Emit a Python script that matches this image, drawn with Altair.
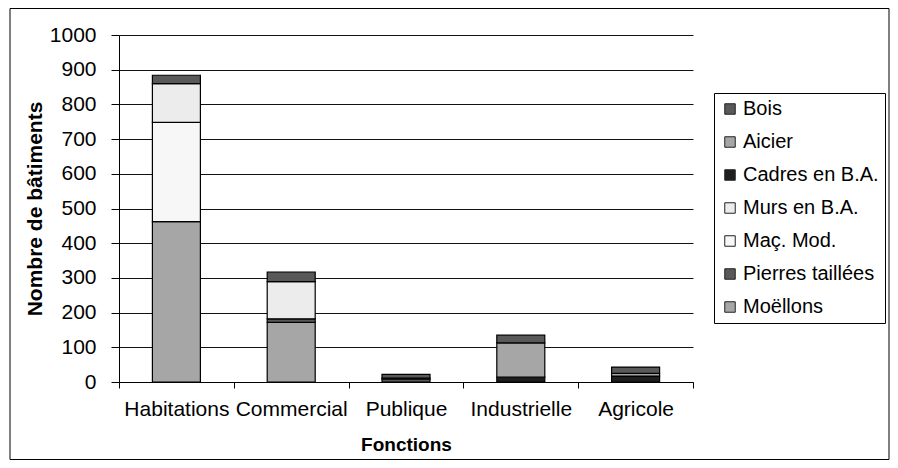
import altair as alt
import pandas as pd

categories = ["Habitations", "Commercial", "Publique", "Industrielle", "Agricole"]
materials = ["Bois", "Aicier", "Cadres en B.A.", "Murs en B.A.", "Maç. Mod.", "Pierres taillées", "Moëllons"]
colors = ["#595959", "#a6a6a6", "#1e1e1e", "#ececec", "#f7f7f7", "#595959", "#a6a6a6"]

moellons = [462, 172, 0, 0, 0]
pierres = [0, 10, 8, 0, 0]
mac_mod = [286, 0, 0, 0, 0]
murs = [112, 107, 3, 0, 0]
cadres = [0, 0, 0, 14, 17]
aicier = [0, 0, 0, 99, 8]
bois = [24, 28, 11, 22, 18]
y_ticks = list(range(0, 1001, 100))

series = {
    "Moëllons": moellons,
    "Pierres taillées": pierres,
    "Maç. Mod.": mac_mod,
    "Murs en B.A.": murs,
    "Cadres en B.A.": cadres,
    "Aicier": aicier,
    "Bois": bois,
}
rows = []
for idx, (mat, vals) in enumerate(series.items()):
    for cat, v in zip(categories, vals):
        if v > 0:
            rows.append({"Fonction": cat, "Matériau": mat, "Nombre": v, "idx": idx})
df = pd.DataFrame(rows)

FONT = "Liberation Sans"

bars = alt.Chart(df).mark_bar(stroke="black", strokeWidth=1.2, size=48).encode(
    x=alt.X("Fonction:N", sort=categories,
            scale=alt.Scale(paddingInner=0, paddingOuter=0),
            axis=alt.Axis(title="Fonctions", labelAngle=0, tickBand="extent", tickSize=6,
                          labelPadding=10, titlePadding=16, domainColor="black", tickColor="black",
                          labelFontSize=21, titleFontSize=19, grid=False)),
    y=alt.Y("Nombre:Q", scale=alt.Scale(domain=[0, 1000], nice=False),
            axis=alt.Axis(title="Nombre de bâtiments", values=y_ticks, format="d", tickSize=8,
                          labelPadding=15, titlePadding=4, domainColor="black", tickColor="black",
                          labelFontSize=21, titleFontSize=21,
                          grid=True, gridColor="#111", gridWidth=1)),
    color=alt.Color("Matériau:N", scale=alt.Scale(domain=materials, range=colors),
                    legend=alt.Legend(title=None, orient="none", legendX=595, legendY=58,
                                      direction="vertical", symbolType="square", symbolSize=110,
                                      symbolStrokeColor="#222", symbolStrokeWidth=1,
                                      labelFontSize=20, labelColor="black", labelFont=FONT,
                                      labelOffset=3,
                                      rowPadding=13, padding=6, strokeColor="black",
                                      fillColor="white", cornerRadius=0)),
    order=alt.Order("idx:Q", sort="ascending"),
)

frame = alt.Chart(alt.Data(values=[{"a": 1}])).mark_rect(
    fillOpacity=0, stroke="black", strokeWidth=1
).encode(
    x=alt.value(-109), x2=alt.value(770), y=alt.value(-26.5), y2=alt.value(424.5)
)

chart = alt.layer(bars, frame).properties(
    width=574, height=347,
    padding={"left": 111, "top": 27, "right": 197, "bottom": 78},
    autosize=alt.AutoSizeParams(type="none"),
).configure_view(stroke=None).configure_axis(
    labelFont=FONT, titleFont=FONT,
    labelColor="black", titleColor="black", titleFontWeight="bold"
).configure_legend(labelFont=FONT)

chart.save("out.html", embed_options={"renderer": "svg", "actions": False})
